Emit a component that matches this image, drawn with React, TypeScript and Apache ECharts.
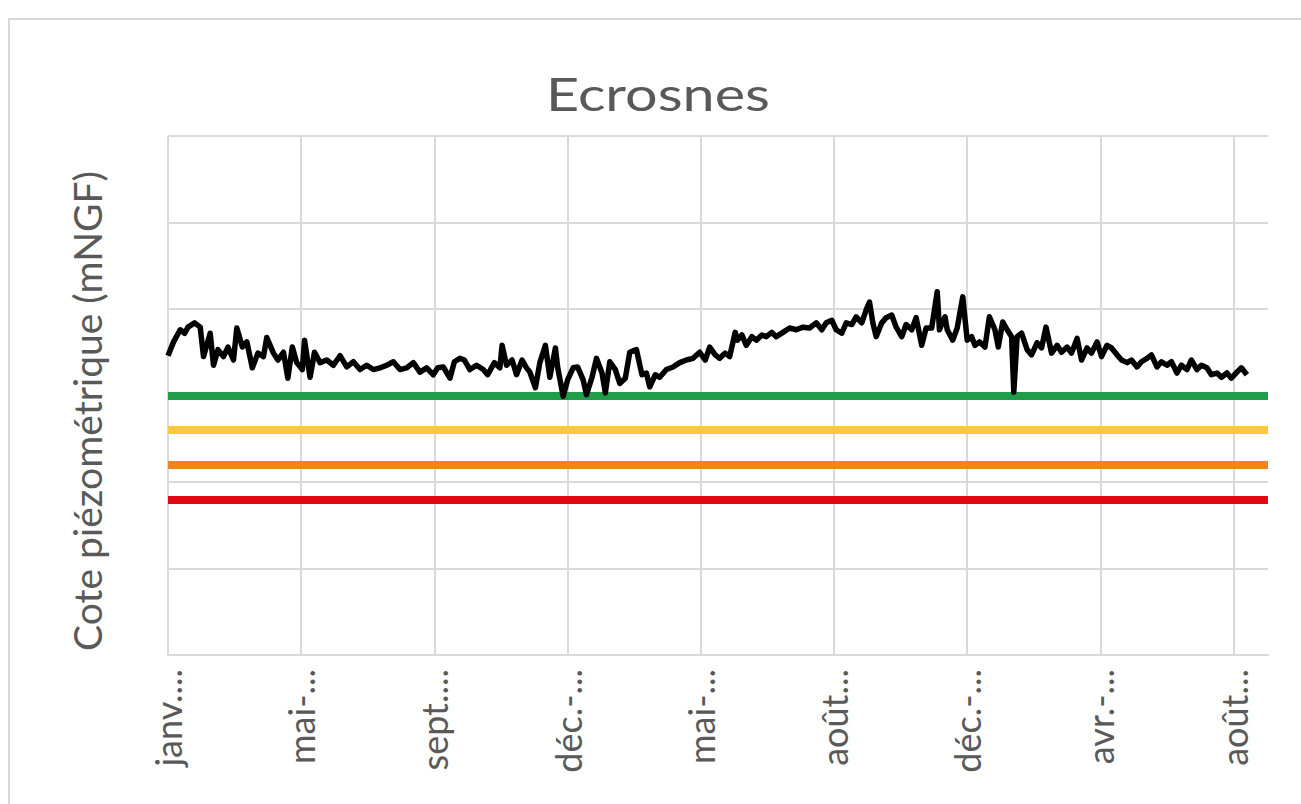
import React, { useEffect, useRef } from "react";
import * as echarts from "echarts";

const titre = "Ecrosnes";
const titreAxeY = "Cote piézométrique (mNGF)";
const etiquettesX = ["janv....", "mai-...", "sept....", "déc.-...", "mai-...", "août...", "déc.-...", "avr.-...", "août..."];

// jours depuis le début de la chronique
const jours = [
  0, 5, 11, 15, 18, 24, 29, 32, 38, 41,
  45, 50, 54, 59, 62, 67, 71, 76, 81, 86,
  89, 95, 99, 104, 108, 112, 116, 121, 123, 128,
  132, 137, 143, 149, 155, 161, 167, 173, 179, 185,
  191, 197, 203, 209, 215, 221, 227, 233, 239, 243,
  248, 254, 258, 263, 267, 272, 278, 284, 288, 294,
  299, 301, 305, 310, 314, 319, 323, 326, 331, 335,
  340, 344, 349, 351, 356, 360, 365, 369, 374, 377,
  382, 386, 391, 394, 398, 403, 407, 412, 416, 422,
  427, 431, 434, 439, 443, 449, 455, 461, 467, 473,
  479, 484, 488, 493, 497, 502, 506, 511, 513, 517,
  521, 526, 530, 535, 539, 544, 548, 554, 560, 566,
  572, 578, 584, 589, 593, 598, 602, 607, 611, 616,
  620, 625, 629, 632, 635, 638, 643, 647, 652, 656,
  661, 665, 670, 674, 679, 683, 688, 693, 695, 700,
  702, 707, 711, 716, 720, 724, 727, 731, 736, 740,
  745, 748, 752, 756, 760, 762, 765, 769, 774, 778,
  783, 787, 791, 796, 801, 805, 810, 814, 819, 823,
  828, 832, 837, 841, 846, 850, 855, 859, 864, 868,
  873, 877, 882, 886, 891, 895, 900, 904, 909, 913,
  918, 922, 927, 931, 936, 940, 945, 949, 954, 958,
  963, 967, 972,
];

// cote piézométrique (mNGF)
const niveaux = [
  73.46, 73.62, 73.76, 73.72, 73.79, 73.84, 73.79, 73.45, 73.72, 73.35,
  73.53, 73.45, 73.56, 73.41, 73.78, 73.56, 73.62, 73.32, 73.49, 73.45,
  73.67, 73.49, 73.41, 73.50, 73.20, 73.56, 73.38, 73.30, 73.64, 73.21,
  73.50, 73.38, 73.41, 73.35, 73.46, 73.33, 73.39, 73.30, 73.35, 73.30,
  73.32, 73.35, 73.39, 73.30, 73.32, 73.38, 73.27, 73.32, 73.24, 73.32,
  73.33, 73.20, 73.39, 73.43, 73.41, 73.30, 73.35, 73.30, 73.24, 73.38,
  73.32, 73.58, 73.35, 73.41, 73.24, 73.41, 73.32, 73.27, 73.09, 73.38,
  73.58, 73.21, 73.55, 73.33, 72.99, 73.18, 73.32, 73.33, 73.18, 73.01,
  73.21, 73.43, 73.26, 73.03, 73.39, 73.30, 73.14, 73.20, 73.50, 73.53,
  73.24, 73.26, 73.10, 73.24, 73.21, 73.30, 73.33, 73.38, 73.41, 73.43,
  73.50, 73.41, 73.56, 73.47, 73.43, 73.49, 73.45, 73.73, 73.64, 73.70,
  73.58, 73.68, 73.64, 73.70, 73.68, 73.73, 73.68, 73.73, 73.78, 73.76,
  73.79, 73.78, 73.84, 73.76, 73.84, 73.87, 73.76, 73.72, 73.84, 73.82,
  73.91, 73.84, 73.99, 74.08, 73.84, 73.68, 73.84, 73.90, 73.93, 73.79,
  73.68, 73.82, 73.76, 73.90, 73.58, 73.78, 73.78, 74.20, 73.76, 73.91,
  73.76, 73.64, 73.78, 74.14, 73.64, 73.68, 73.58, 73.62, 73.56, 73.91,
  73.76, 73.56, 73.85, 73.76, 73.68, 73.04, 73.68, 73.72, 73.53, 73.47,
  73.61, 73.55, 73.79, 73.49, 73.58, 73.50, 73.56, 73.49, 73.66, 73.41,
  73.55, 73.49, 73.62, 73.45, 73.58, 73.55, 73.47, 73.41, 73.38, 73.41,
  73.33, 73.39, 73.43, 73.47, 73.33, 73.39, 73.35, 73.39, 73.26, 73.35,
  73.30, 73.41, 73.30, 73.35, 73.32, 73.24, 73.26, 73.21, 73.26, 73.20,
  73.27, 73.32, 73.24,
];

// seuils (vigilance, alerte, alerte renforcée, crise)
const seuils = [73.0, 72.6, 72.2, 71.8];
const couleursSeuils = ["#1f9d48", "#fcc83a", "#f1841f", "#e30613"];

const Y_MIN = 70;
const Y_MAX = 76;
const X_MAX = 991;
const PAS_X = 120;

export default function App() {
  const ref = useRef<HTMLDivElement>(null);

  useEffect(() => {
    const chart = echarts.init(ref.current as HTMLDivElement, null, { renderer: "svg" });
    const font = "Lato, 'Open Sans', sans-serif";
    const gris = "#d9d9d9";
    const texte = "#595959";

    const option: any = {
      animation: false,
      grid: { left: 168, right: 33, top: 136, bottom: 149 },
      xAxis: {
        type: "value",
        min: 0,
        max: X_MAX,
        interval: PAS_X,
        axisLine: { show: true, lineStyle: { color: gris, width: 2 } },
        axisTick: { show: false },
        splitLine: { show: true, showMaxLine: false, lineStyle: { color: gris, width: 2 } },
        axisLabel: {
          rotate: 90,
          margin: 14,
          color: texte,
          fontFamily: font,
          fontSize: 36,
          showMaxLabel: false,
          formatter: (v: number) => {
            if (v % PAS_X !== 0) return "";
            const i = Math.round(v / PAS_X);
            return etiquettesX[i] ?? "";
          },
        },
      },
      yAxis: {
        type: "value",
        min: Y_MIN,
        max: Y_MAX,
        interval: 1,
        axisLine: { show: false },
        axisTick: { show: false },
        axisLabel: { show: false },
        splitLine: { show: true, lineStyle: { color: gris, width: 2 } },
      },
      graphic: [
        {
          type: "text",
          x: 658,
          y: 93,
          scaleX: 1.25,
          style: {
            text: titre,
            fontSize: 46,
            fontFamily: font,
            fill: texte,
            align: "center",
            verticalAlign: "middle",
          },
        },
        {
          type: "text",
          x: 87,
          y: 411,
          rotation: Math.PI / 2,
          style: {
            text: titreAxeY,
            fontSize: 39,
            fontFamily: font,
            fill: texte,
            align: "center",
            verticalAlign: "middle",
          },
        },
      ],
      series: [
        ...seuils.map((s, i) => ({
          type: "line",
          data: [],
          silent: true,
          z: 2,
          markLine: {
            silent: true,
            symbol: "none",
            label: { show: false },
            emphasis: { disabled: true },
            lineStyle: { color: couleursSeuils[i], width: 8, type: "solid" },
            data: [{ yAxis: s }],
          },
        })),
        {
          type: "line",
          data: jours.map((j, i) => [j, niveaux[i]]),
          symbol: "none",
          showSymbol: false,
          silent: true,
          z: 5,
          lineStyle: { color: "#000000", width: 5.5, join: "round" },
        },
      ],
    };

    chart.setOption(option);
    return () => {
      chart.dispose();
    };
  }, []);

  return (
    <>
      <div
        style={{
          position: "fixed",
          left: 8,
          top: 18,
          width: 1400,
          height: 900,
          border: "2px solid #d9d9d9",
          boxSizing: "border-box",
          background: "#ffffff",
        }}
      />
      <div ref={ref} style={{ position: "fixed", left: 0, top: 0, width: 1301, height: 804 }} />
    </>
  );
}
